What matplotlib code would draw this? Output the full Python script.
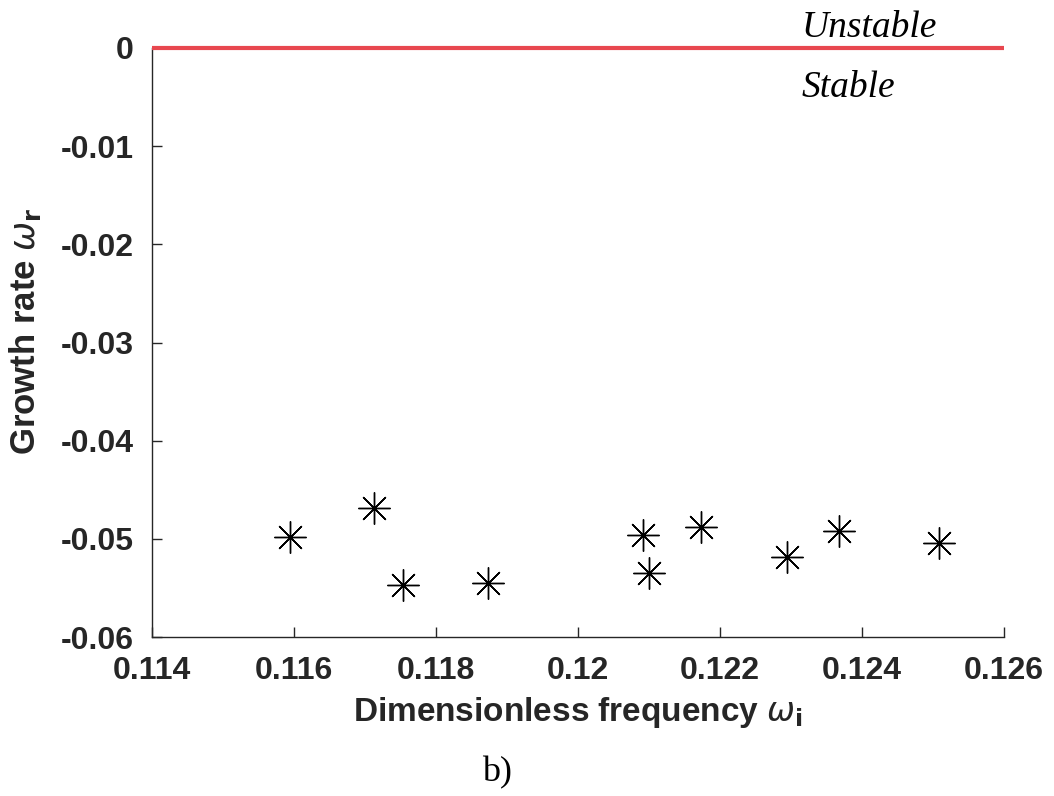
import matplotlib
matplotlib.use("Agg")
import matplotlib.pyplot as plt

# growth rate vs frequency
freq = [0.11594, 0.11713, 0.11754, 0.11873, 0.12091, 0.12100, 0.12173, 0.12295, 0.12368, 0.12509]
growth = [-0.04978, -0.04689, -0.05473, -0.05447, -0.04964, -0.05351, -0.04879, -0.05185, -0.04917, -0.05039]

xticks = [0.114, 0.116, 0.118, 0.12, 0.122, 0.124, 0.126]
xticklabels = ["0.114", "0.116", "0.118", "0.12", "0.122", "0.124", "0.126"]
yticks = [0, -0.01, -0.02, -0.03, -0.04, -0.05, -0.06]
yticklabels = ["0", "-0.01", "-0.02", "-0.03", "-0.04", "-0.05", "-0.06"]

plt.rcParams["font.family"] = ["Liberation Sans", "DejaVu Sans"]
plt.rcParams["mathtext.fontset"] = "dejavusans"
plt.rcParams["axes.unicode_minus"] = False

dark = "#262626"

fig = plt.figure(figsize=(10.54, 7.96), dpi=100)
ax = fig.add_axes([0.1442, 0.1997, 0.8084, 0.7400])

# stability boundary
ax.plot([0.114, 0.126], [0, 0], color="#e8474f", lw=3.0, solid_capstyle="butt", zorder=3, clip_on=False)

# MATLAB-style asterisk markers
ax.plot(freq, growth, linestyle="none", marker=(8, 2, 0), markersize=23,
        markeredgewidth=1.0, color="black")

ax.set_xlim(0.114, 0.126)
ax.set_ylim(-0.06, 0)
ax.set_xticks(xticks)
ax.set_xticklabels(xticklabels)
ax.set_yticks(yticks)
ax.set_yticklabels(yticklabels)

for side in ["top", "right"]:
    ax.spines[side].set_visible(False)
for side in ["left", "bottom"]:
    ax.spines[side].set_color(dark)
    ax.spines[side].set_linewidth(1.0)

ax.tick_params(direction="in", length=7, width=1.0, color=dark, labelcolor=dark,
               labelsize=23)
ax.tick_params(axis="x", pad=14)
ax.tick_params(axis="y", pad=13)
for lbl in ax.get_xticklabels() + ax.get_yticklabels():
    lbl.set_fontweight("bold")

ax.set_xlabel(r"Dimensionless frequency $\omega_\mathbf{i}$", fontsize=24,
              fontweight="bold", color=dark, labelpad=6)
ax.set_ylabel(r"Growth rate $\omega_\mathbf{r}$", fontsize=25,
              fontweight="bold", color=dark)
ax.yaxis.set_label_coords(-0.128, 0.52)

serif = ["Liberation Serif", "DejaVu Serif"]
ax.text(0.12315, 0.0011, "Unstable", fontsize=27, style="italic", family=serif,
        ha="left", va="baseline", clip_on=False)
ax.text(0.12315, -0.0050, "Stable", fontsize=27, style="italic", family=serif,
        ha="left", va="baseline")

fig.text(497 / 1054, 1 - 773 / 796, "b)", fontsize=26, family=serif,
         ha="center", va="center")

fig.savefig("out.png", dpi=100, facecolor="white")
